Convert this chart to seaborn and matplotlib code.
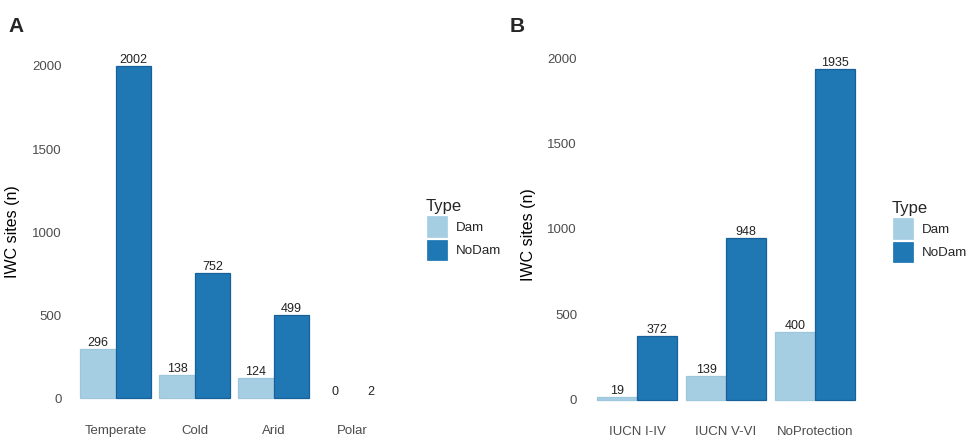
import matplotlib
matplotlib.use("Agg")
import matplotlib.pyplot as plt
import pandas as pd
import seaborn as sns

# Panel A: climate zones
zonas = ["Temperate", "Cold", "Arid", "Polar"]
dam_a = [296, 138, 124, 0]
nodam_a = [2002, 752, 499, 2]

# Panel B: protection level
protecao = ["IUCN I-IV", "IUCN V-VI", "NoProtection"]
dam_b = [19, 139, 400]
nodam_b = [372, 948, 1935]

tipos = ["Dam", "NoDam"]
cores = {"Dam": "#a6cee3", "NoDam": "#1f78b4"}
bordas = ["#9cc6dc", "#17609a"]

sns.set_theme(style="white")
plt.rcParams["font.family"] = ["Liberation Sans", "DejaVu Sans"]


def montar(cats, dam, nodam):
    return pd.DataFrame({
        "cat": cats * 2,
        "Type": ["Dam"] * len(cats) + ["NoDam"] * len(cats),
        "n": dam + nodam,
    })


fig = plt.figure(figsize=(9.71, 4.37), dpi=100)
W, H = 971, 437


def painel(rect_px, df, cats, vmax, leg_px, label_x):
    x0, y0, x1, y1 = rect_px
    ax = fig.add_axes([x0 / W, 1 - y1 / H, (x1 - x0) / W, (y1 - y0) / H])
    sns.barplot(data=df, x="cat", y="n", hue="Type", order=cats, hue_order=tipos,
                palette=cores, saturation=1, width=0.9, ax=ax, linewidth=0.9)
    for cont, ec in zip(ax.containers, bordas):
        for p in cont:
            p.set_edgecolor(ec)
            if p.get_height() < 5:
                p.set_linewidth(0)  # barras quase nulas ficam invisíveis
        ax.bar_label(cont, fmt="%.0f", padding=0, fontsize=9, color="#222222")
    ax.set_xlim(-0.6, len(cats) - 0.4)
    ax.set_ylim(-0.05 * vmax, 1.05 * vmax)
    ax.set_yticks([0, 500, 1000, 1500, 2000])
    ax.set_xlabel("")
    ax.set_ylabel("IWC sites (n)", fontsize=11.5, color="black")
    ax.yaxis.set_label_coords(label_x, 0.5)
    ax.tick_params(axis="x", length=0, pad=7, labelsize=9.5, labelcolor="#4d4d4d")
    ax.tick_params(axis="y", length=0, pad=5, labelsize=9.5, labelcolor="#4d4d4d")
    sns.despine(ax=ax, left=True, bottom=True)
    ax.set_facecolor("white")
    sns.move_legend(ax, "upper left", bbox_to_anchor=(leg_px[0] / W, 1 - leg_px[1] / H),
                    bbox_transform=fig.transFigure, frameon=False, title="Type",
                    fontsize=9.6, title_fontsize=12, handlelength=1.65, handleheight=2.2,
                    labelspacing=0.1, handletextpad=0.6, borderpad=0, borderaxespad=0,
                    alignment="left")
    return ax


axA = painel((68.6, 49, 400, 415), montar(zonas, dam_a, nodam_a), zonas, 2002,
             (426, 199), -0.147)
axB = painel((584, 52.6, 868, 416.5), montar(protecao, dam_b, nodam_b), protecao, 1935,
             (892, 201), -0.17)

fig.text(8 / W, 1 - 27 / H, "A", fontsize=15, fontweight="bold", va="center", ha="left")
fig.text(510 / W, 1 - 27 / H, "B", fontsize=15, fontweight="bold", va="center", ha="left")

fig.savefig("out.png", dpi=100)
